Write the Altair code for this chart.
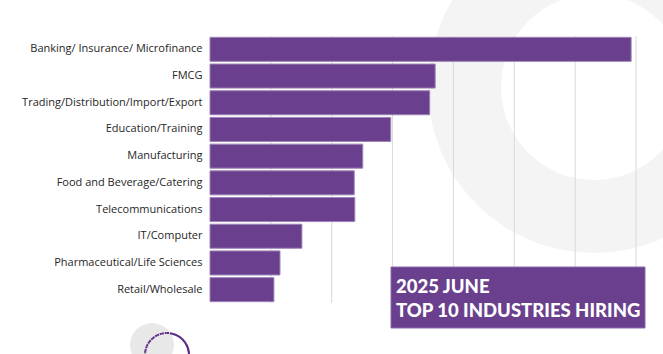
import altair as alt
import pandas as pd

industries = [
    "Banking/ Insurance/ Microfinance",
    "FMCG",
    "Trading/Distribution/Import/Export",
    "Education/Training",
    "Manufacturing",
    "Food and Beverage/Catering",
    "Telecommunications",
    "IT/Computer",
    "Pharmaceutical/Life Sciences",
    "Retail/Wholesale",
]
jobs = [692, 370, 361, 297, 251, 237, 238, 151, 115, 105]
grid_ticks = [100, 200, 300, 400, 500, 600, 700]
title_lines = ["2025 JUNE", "TOP 10 INDUSTRIES HIRING"]

W, H = 426, 267
PURPLE = "#6a408e"

df = pd.DataFrame({"industry": industries, "jobs": jobs})
grid_df = pd.DataFrame({"v": grid_ticks})
one = pd.DataFrame({"k": [0]})

xscale = alt.Scale(domain=[0, 700], nice=False, zero=True)

ring = alt.Chart(one).mark_arc(radius=166, radius2=93, color="#f4f4f4").encode(
    x=alt.value(384), y=alt.value(51), theta=alt.value(0), theta2=alt.value(6.2832)
)
hatch = alt.Chart(one).mark_arc(radius=22, color="#e8e8e8").encode(
    x=alt.value(-58), y=alt.value(309), theta=alt.value(0), theta2=alt.value(6.2832)
)
arc_dot = alt.Chart(one).mark_arc(
    radius=22, radius2=22, filled=False, stroke="#5b2d84", strokeWidth=2, strokeDash=[2, 3]
).encode(x=alt.value(-43), y=alt.value(319), theta=alt.value(3.3), theta2=alt.value(6.5))
arc_solid = alt.Chart(one).mark_arc(
    radius=22, radius2=22, filled=False, stroke="#5b2d84", strokeWidth=2
).encode(x=alt.value(-43), y=alt.value(319), theta=alt.value(0.2), theta2=alt.value(3.3))

grid = alt.Chart(grid_df).mark_rule(color="#d9d9d9", strokeWidth=1).encode(
    x=alt.X("v:Q", scale=xscale, axis=None)
)

bars = alt.Chart(df).mark_bar(color=PURPLE, stroke="#9d83b8", strokeWidth=1).encode(
    x=alt.X("jobs:Q", scale=xscale, axis=None),
    y=alt.Y(
        "industry:N",
        sort=industries,
        scale=alt.Scale(paddingInner=0.1, paddingOuter=0.05),
        axis=alt.Axis(
            title=None, domain=False, ticks=False, labelPadding=8,
            labelFont="Open Sans", labelFontSize=11, labelColor="#262626", labelLimit=250,
        ),
    ),
)

box = alt.Chart(one).mark_rect(color=PURPLE, stroke="#8a6aab", strokeWidth=1).encode(
    x=alt.value(181), x2=alt.value(435), y=alt.value(231), y2=alt.value(292)
)

def title_text(s, ypix):
    return alt.Chart(pd.DataFrame({"t": [s]})).mark_text(
        align="left", baseline="alphabetic", font="Lato", fontWeight=900,
        fontSize=18.5, color="white"
    ).encode(text="t:N", x=alt.value(186), y=alt.value(ypix))

t1 = title_text(title_lines[0], 257)
t2 = title_text(title_lines[1], 281)

chart = alt.layer(ring, hatch, arc_dot, arc_solid, grid, bars, box, t1, t2).properties(
    width=W, height=H,
    autosize=alt.AutoSizeParams(type="none"),
    padding={"left": 210, "top": 36, "right": 27, "bottom": 51},
    background="white",
).configure_view(stroke=None)

chart.save("out.html", embed_options={"renderer": "svg", "actions": False})
